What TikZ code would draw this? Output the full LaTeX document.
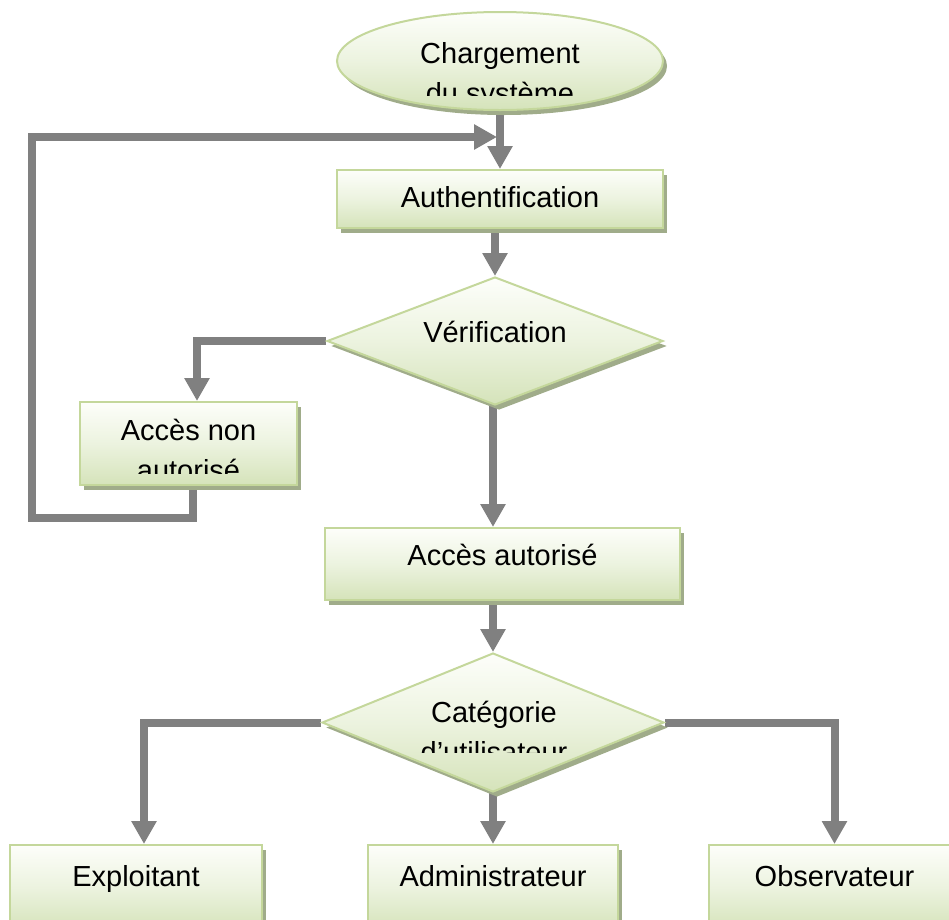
\documentclass[tikz,border=0pt]{standalone}
\usepackage{fontspec}
\setmainfont{Liberation Sans}
\usetikzlibrary{shapes.geometric,arrows.meta,shadows,backgrounds}

\definecolor{gtop}{RGB}{253,254,250}
\definecolor{gmid}{RGB}{236,243,223}
\definecolor{gbot}{RGB}{213,227,186}
\definecolor{gborder}{RGB}{196,215,155}
\definecolor{shadowc}{RGB}{160,172,138}
\definecolor{conn}{RGB}{128,128,128}

\tikzset{
  flowshape/.style={draw=gborder, line width=2pt, top color=gtop,
    bottom color=gbot, middle color=gmid, inner sep=0pt,
    drop shadow={shadow xshift=4pt, shadow yshift=-5pt, fill=shadowc, opacity=1}},
  boxshape/.style={flowshape, rectangle},
  decision/.style={flowshape, diamond},
  terminal/.style={flowshape, ellipse},
  lbl/.style={anchor=base, inner sep=0pt, font=\fontsize{29}{40}\selectfont},
  link/.style={draw=conn, line width=8pt, line join=miter},
  arrowlink/.style={link, -{Triangle[width=24pt,length=23pt]}},
}

\begin{document}
\begin{tikzpicture}[x=1pt, y=-1pt]
  \useasboundingbox (0,0) rectangle (949,919);
  \clip (0,0) rectangle (949,919);

  % shapes
  \node[terminal, minimum width=326pt, minimum height=98pt] (start) at (500,61) {};
  \node[boxshape, minimum width=326pt, minimum height=58pt] (auth) at (500,199) {};
  \node[decision, minimum width=336pt, minimum height=128pt] (verif) at (495,341) {};
  \node[boxshape, minimum width=217pt, minimum height=83pt] (deny) at (188.5,443.5) {};
  \node[boxshape, minimum width=355pt, minimum height=72pt] (allow) at (502.5,564) {};
  \node[decision, minimum width=342pt, minimum height=139pt] (cat) at (493,722.5) {};
  \node[boxshape, minimum width=252pt, minimum height=85pt] (exp) at (136,887.5) {};
  \node[boxshape, minimum width=250pt, minimum height=85pt] (adm) at (493,887.5) {};
  \node[boxshape, minimum width=251pt, minimum height=85pt] (obs) at (834.5,887.5) {};

  % labels (second lines are cut by the text area of their shape)
  \node[lbl] (tstart) at (500,63) {Chargement};
  \begin{scope}
    \clip (300,0) rectangle (700,95);
    \node[lbl] (tstartb) at (500,103) {du système};
  \end{scope}
  \node[lbl] (tauth) at (500,207) {Authentification};
  \node[lbl] (tverif) at (495,342) {Vérification};
  \node[lbl] (tdeny) at (188.5,440) {Accès non};
  \begin{scope}
    \clip (60,400) rectangle (320,473);
    \node[lbl] (tdenyb) at (188.5,480) {autorisé};
  \end{scope}
  \node[lbl] (tallow) at (502.5,565) {Accès autorisé};
  \node[lbl] (tcat) at (494,722) {Catégorie};
  \begin{scope}
    \clip (300,640) rectangle (700,752);
    \node[lbl] (tcatb) at (494,762) {d’utilisateur};
  \end{scope}
  \node[lbl] (texp) at (136,886) {Exploitant};
  \node[lbl] (tadm) at (493,886) {Administrateur};
  \node[lbl] (tobs) at (834.5,886) {Observateur};

  % connectors
  \coordinate (loopin) at (497,137);
  \coordinate (loopbl) at (32,518);
  \begin{scope}[on background layer]
    \draw[arrowlink] (start.south) -- (auth.north);
    \draw[arrowlink] ([xshift=4pt]deny.south) |- (loopbl) |- (loopin);
    \draw[arrowlink] (verif.north |- auth.south) -- (verif.north);
    \draw[arrowlink] (verif.west) -| ([xshift=8.5pt]deny.north);
    \draw[arrowlink] ([xshift=-2pt]verif.south) -- ([xshift=-2pt]verif.south |- allow.north);
    \draw[arrowlink] (cat.north |- allow.south) -- (cat.north);
    \draw[arrowlink] (cat.west) -| ([xshift=8pt]exp.north);
    \draw[arrowlink] (cat.south) -- (cat.south |- adm.north);
    \draw[arrowlink] (cat.east) -| (obs.north);
  \end{scope}
\end{tikzpicture}
\end{document}
